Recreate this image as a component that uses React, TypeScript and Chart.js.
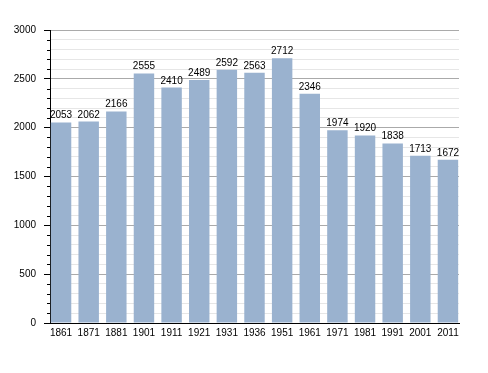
import React, { useEffect, useRef } from 'react';
import { Chart, registerables } from 'chart.js';

Chart.register(...registerables);

const years = ['1861', '1871', '1881', '1901', '1911', '1921', '1931', '1936', '1951', '1961', '1971', '1981', '1991', '2001', '2011'];
const population = [2053, 2062, 2166, 2555, 2410, 2489, 2592, 2563, 2712, 2346, 1974, 1920, 1838, 1713, 1672];
const yMax = 3000;
const yMajorStep = 500;
const yMinorStep = 100;

const FAMILY = '"Liberation Sans", Arial, Helvetica, sans-serif';

export default function App() {
  const ref = useRef<HTMLCanvasElement>(null);

  useEffect(() => {
    document.body.style.margin = '0';
    const canvas = ref.current;
    if (!canvas) return;

    const valueLabels = {
      id: 'valueLabels',
      afterDatasetsDraw(chart: any) {
        const ctx = chart.ctx;
        const meta = chart.getDatasetMeta(0);
        ctx.save();
        ctx.font = `10px ${FAMILY}`;
        ctx.fillStyle = '#000';
        ctx.textAlign = 'center';
        ctx.textBaseline = 'alphabetic';
        meta.data.forEach((bar: any, i: number) => {
          ctx.fillText(String(population[i]), bar.x, bar.y - 4);
        });
        ctx.restore();
      },
    };

    const minorTicks = {
      id: 'minorTicks',
      afterDraw(chart: any) {
        const s = chart.scales.y;
        const ctx = chart.ctx;
        ctx.save();
        ctx.strokeStyle = '#000';
        ctx.lineWidth = 1;
        s.ticks.forEach((t: any) => {
          if (t.value % yMajorStep !== 0) {
            const y = Math.round(s.getPixelForValue(t.value)) + 0.5;
            ctx.beginPath();
            ctx.moveTo(s.right - 3, y);
            ctx.lineTo(s.right, y);
            ctx.stroke();
          }
        });
        ctx.restore();
      },
    };

    const chart = new Chart(canvas, {
      type: 'bar',
      data: {
        datasets: [
          {
            data: population.map((v, i) => ({ x: i, y: v })),
            backgroundColor: '#9ab2cf',
            borderWidth: 0,
            barPercentage: 0.74,
            categoryPercentage: 1,
          },
        ],
      },
      options: {
        responsive: false,
        animation: false,
        events: [],
        layout: { padding: { top: 30, right: 29, bottom: 20, left: 0 } },
        plugins: { legend: { display: false }, tooltip: { enabled: false }, title: { display: false } },
        scales: {
          x: {
            type: 'linear',
            offset: false,
            min: -0.4,
            max: years.length - 1 + 0.4,
            grid: { display: false, drawTicks: false },
            border: { display: true, color: '#000', width: 1 },
            ticks: {
              stepSize: 1,
              includeBounds: false,
              autoSkip: false,
              maxRotation: 0,
              padding: 4,
              color: '#000',
              font: { family: FAMILY, size: 10 },
              callback: (v: any) => (Number.isInteger(v) && years[v] !== undefined ? years[v] : ''),
            },
            afterFit: (scale: any) => {
              scale.height = 30;
            },
          },
          y: {
            type: 'linear',
            min: 0,
            max: yMax,
            grid: {
              color: (c: any) => (c.tick && c.tick.value % yMajorStep === 0 ? '#aaaaaa' : '#e6e6e6'),
              tickColor: (c: any) => (c.tick && c.tick.value % yMajorStep === 0 ? '#000' : 'rgba(0,0,0,0)'),
              tickLength: 6,
              lineWidth: 1,
            },
            border: { display: true, color: '#000', width: 1 },
            ticks: {
              stepSize: yMinorStep,
              autoSkip: false,
              padding: 8,
              color: '#000',
              font: { family: FAMILY, size: 10 },
              callback: (v: any) => (v % yMajorStep === 0 ? String(v) : ''),
            },
            afterFit: (scale: any) => {
              scale.width = 50;
            },
          },
        },
      },
      plugins: [valueLabels, minorTicks],
    } as any);

    return () => chart.destroy();
  }, []);

  return <canvas ref={ref} width={488} height={373} style={{ display: 'block' }} />;
}
